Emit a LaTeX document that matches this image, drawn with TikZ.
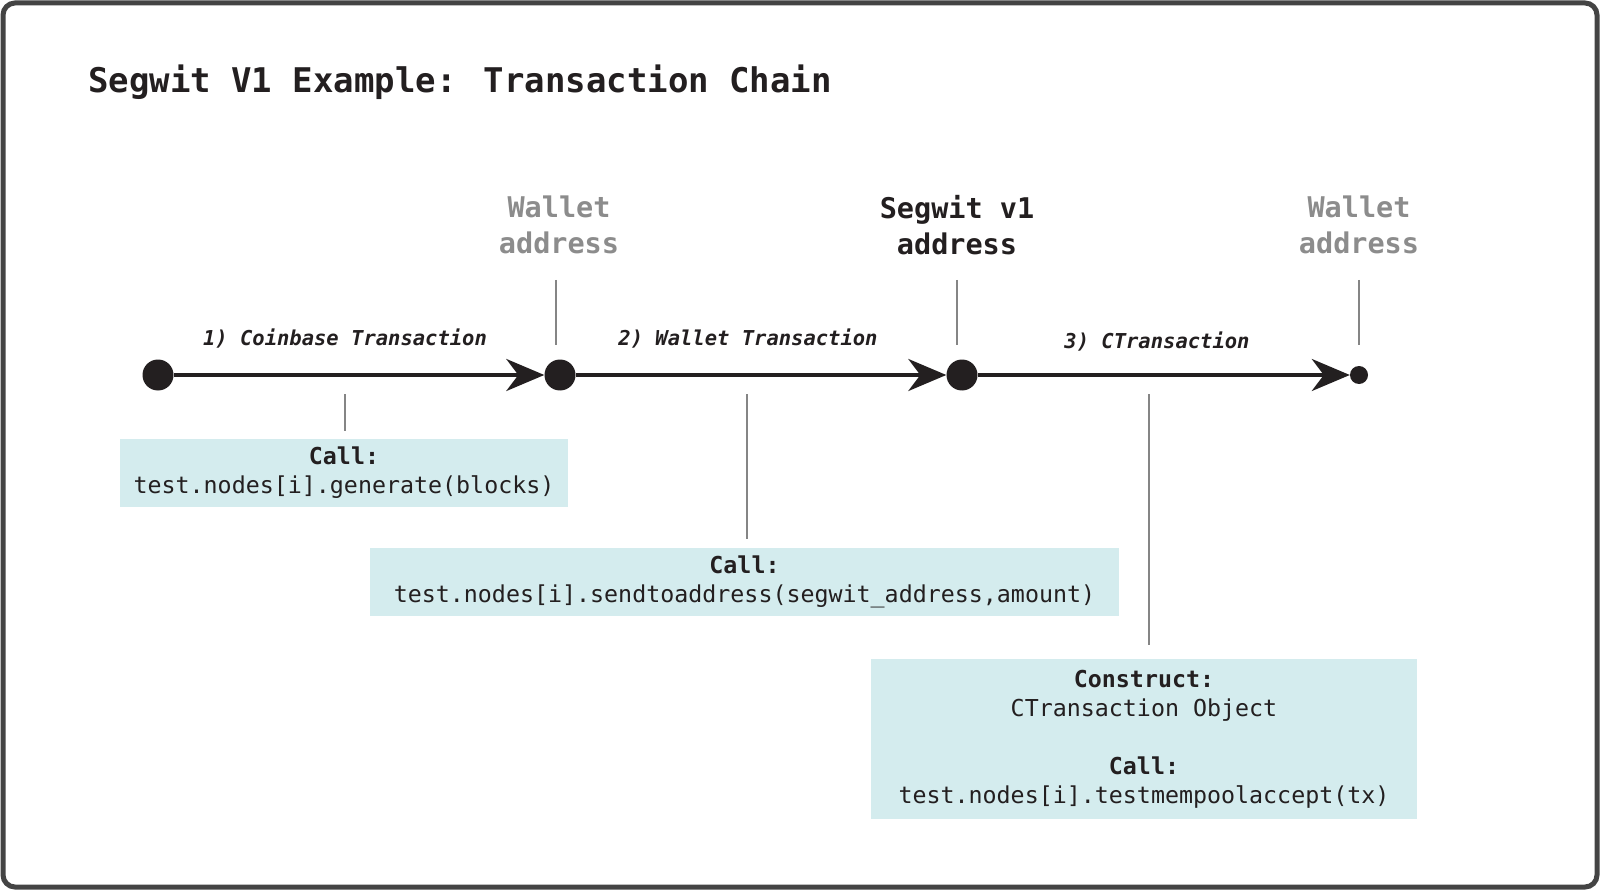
\documentclass[tikz,border=0pt]{standalone}
\usepackage{fontspec}
\newfontfamily\dmono{DejaVu Sans Mono}[BoldFont={DejaVu Sans Mono Bold},ItalicFont={DejaVu Sans Mono Oblique},BoldItalicFont={DejaVu Sans Mono Bold Oblique}]
\usetikzlibrary{arrows.meta}
\definecolor{ink}{HTML}{231F20}
\definecolor{frame}{HTML}{444444}
\definecolor{boxfill}{HTML}{D4ECEE}
\definecolor{greytext}{HTML}{8C8C8C}
\definecolor{tickgrey}{HTML}{858585}
\begin{document}
\begin{tikzpicture}[x=1pt,y=-1pt,
  dot/.style={circle,fill=ink,inner sep=0pt,minimum size=31pt},
  smalldot/.style={circle,fill=ink,inner sep=0pt,minimum size=18pt},
  arr/.style={draw=ink,line width=4pt,-{Stealth[length=38pt,width=32pt,inset=12pt]}},
  tick/.style={draw=tickgrey,line width=1.8pt},
  txlabel/.style={font=\dmono\bfseries\itshape\fontsize{20.5}{24}\selectfont,text=ink,inner sep=0pt},
  addr/.style={font=\dmono\bfseries\fontsize{28.5}{36}\selectfont,align=center,inner sep=0pt},
  callbox/.style={fill=boxfill,inner sep=0pt,align=center,text=ink,font=\dmono\fontsize{23.3}{29}\selectfont},
]
\useasboundingbox (0,0) rectangle (1600,890);
\fill[white] (0,0) rectangle (1600,890);
\draw[frame,line width=5pt,rounded corners=12pt] (3,3) rectangle (1597,887);

\node[anchor=west,inner sep=0pt,text=ink,font=\dmono\bfseries\fontsize{34}{40}\selectfont] (title) at (88,82) {Segwit V1 Example: Transaction Chain};

% address labels
\node[addr,text=greytext] (w1) at (559,225) {Wallet\\address};
\node[addr,text=ink] (sw) at (957,225) {Segwit v1\\address};
\node[addr,text=greytext] (w2) at (1359,225) {Wallet\\address};

% dots
\node[dot] (d1) at (158,375) {};
\node[dot] (d2) at (560,375) {};
\node[dot] (d3) at (962,375) {};
\node[smalldot] (d4) at (1359,375) {};

% arrows
\draw[arr] (d1) -- (d2);
\draw[arr] (d2) -- (d3);
\draw[arr] (d3) -- (d4);

% transaction labels
\node[txlabel] (l1) at (345,339) {1) Coinbase Transaction};
\node[txlabel] (l2) at (748,339) {2) Wallet Transaction};
\node[txlabel] (l3) at (1157,342) {3) CTransaction};

% top ticks
\coordinate (ta1) at (556,280); \coordinate (tb1) at (556,345);
\coordinate (ta2) at (957,280); \coordinate (tb2) at (957,345);
\coordinate (ta3) at (1359,280); \coordinate (tb3) at (1359,345);
\draw[tick] (ta1) -- (tb1);
\draw[tick] (ta2) -- (tb2);
\draw[tick] (ta3) -- (tb3);

% boxes
\node[callbox,minimum width=448pt,minimum height=68pt] (b1) at (344,473)
  {\textbf{Call:}\\test.nodes[i].generate(blocks)};
\node[callbox,minimum width=749pt,minimum height=68pt] (b2) at (744.5,582)
  {\textbf{Call:}\\test.nodes[i].sendtoaddress(segwit\_address,amount)};
\node[callbox,minimum width=546pt,minimum height=160pt] (b3) at (1144,739)
  {\textbf{Construct:}\\CTransaction Object\\[29pt]\textbf{Call:}\\test.nodes[i].testmempoolaccept(tx)};

% bottom ticks
\coordinate (ba1) at (345,394); \coordinate (bb1) at (345,431);
\coordinate (ba2) at (747,394); \coordinate (bb2) at (747,539);
\coordinate (ba3) at (1149,394); \coordinate (bb3) at (1149,645);
\draw[tick] (ba1) -- (bb1);
\draw[tick] (ba2) -- (bb2);
\draw[tick] (ba3) -- (bb3);
\end{tikzpicture}
\end{document}
